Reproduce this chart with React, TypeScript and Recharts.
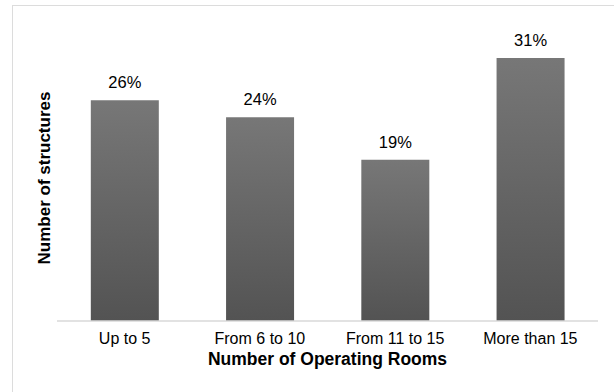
import { BarChart, Bar, XAxis, YAxis, LabelList, Label } from "recharts";

const categories = ["Up to 5", "From 6 to 10", "From 11 to 15", "More than 15"];
const shares = [26, 24, 19, 31];

const data = categories.map((room, i) => ({ room, share: shares[i] }));

const font = "'Liberation Sans', Arial, Helvetica, sans-serif";

export default function App() {
  return (
    <div style={{ position: "absolute", left: 0, top: 0, width: 614, height: 392, background: "#fff", overflow: "hidden" }}>
      <div
        style={{
          position: "absolute",
          left: 12,
          top: 5,
          width: 620,
          height: 400,
          border: "1.5px solid #dcdcdc"
        }}
      />
      <div style={{ position: "absolute", left: 0, top: 0 }}>
        <BarChart
          width={614}
          height={392}
          data={data}
          margin={{ top: 24, right: 16, bottom: 0, left: 0 }}
          barCategoryGap="25%"
        >
          <defs>
            <linearGradient id="barFill" x1="0" y1="0" x2="0" y2="1">
              <stop offset="0%" stopColor="#777777" />
              <stop offset="100%" stopColor="#535353" />
            </linearGradient>
          </defs>
          <XAxis
            dataKey="room"
            height={71}
            tickLine={false}
            tickSize={0}
            tickMargin={12}
            axisLine={{ stroke: "#d9d9d9", strokeWidth: 1.5 }}
            tick={{ fill: "#000", fontSize: 16, fontFamily: font }}
            interval={0}
          >
            <Label
              value="Number of Operating Rooms"
              position="insideBottom"
              offset={27}
              style={{ fontSize: 17.5, fontWeight: "bold", fill: "#000", fontFamily: font }}
            />
          </XAxis>
          <YAxis
            width={57}
            domain={[0, 35]}
            axisLine={false}
            tickLine={false}
            tick={false}
          >
            <Label
              content={() => (
                <text
                  x={44}
                  y={178}
                  transform="rotate(-90, 44, 178)"
                  textAnchor="middle"
                  dominantBaseline="central"
                  style={{ fontSize: 17, fontWeight: "bold", fill: "#000", fontFamily: font }}
                >
                  Number of structures
                </text>
              )}
            />
          </YAxis>
          <Bar dataKey="share" fill="url(#barFill)" isAnimationActive={false}>
            <LabelList
              dataKey="share"
              position="top"
              offset={12}
              formatter={(v: number) => `${v}%`}
              style={{ fontSize: 16.5, fill: "#000", fontFamily: font }}
            />
          </Bar>
        </BarChart>
      </div>
    </div>
  );
}
